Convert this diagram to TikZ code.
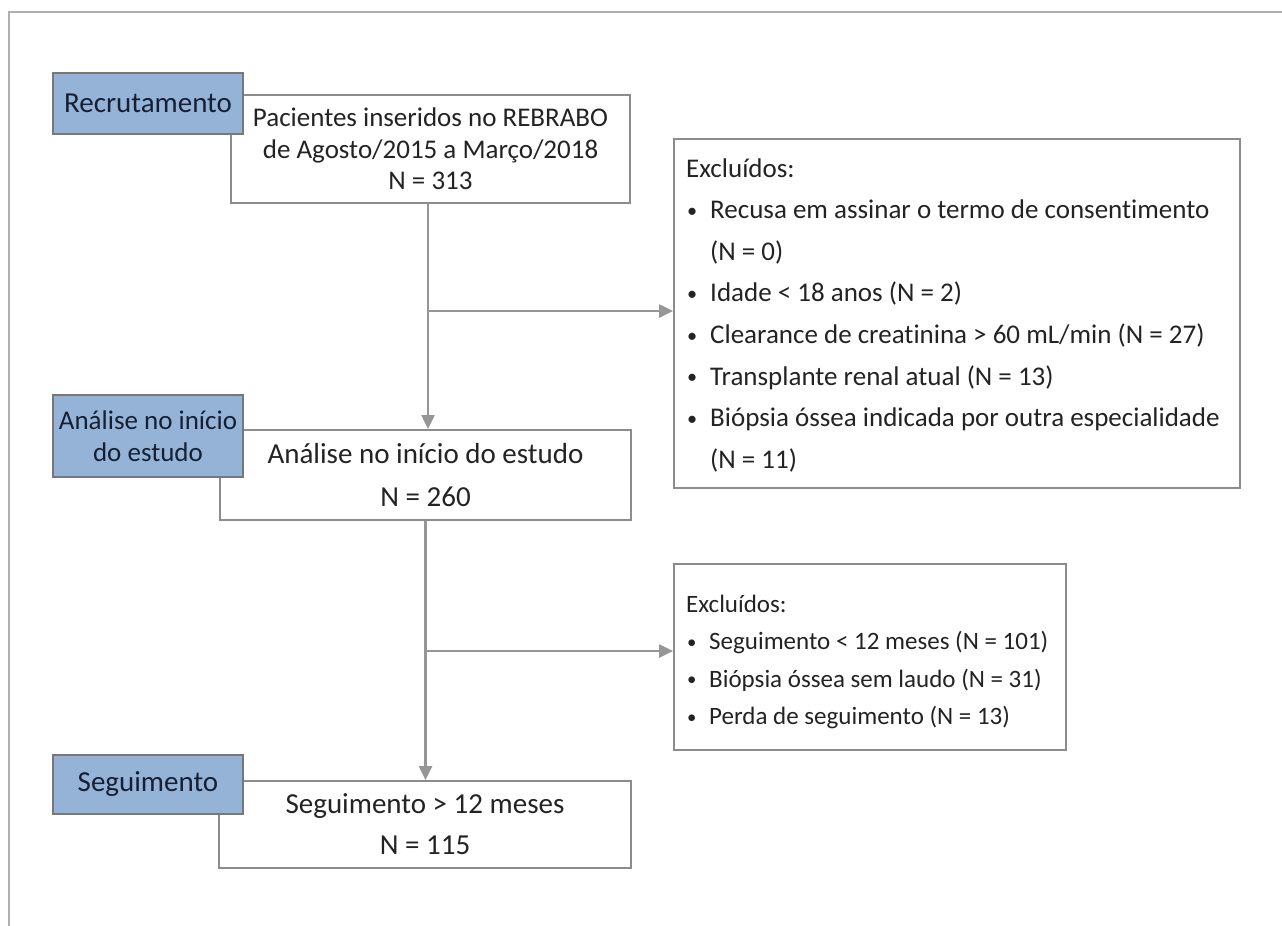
\documentclass[tikz,border=0pt]{standalone}
\usepackage{fontspec}
\setmainfont{Carlito}[Ligatures=NoCommon]
\usetikzlibrary{arrows.meta}
\definecolor{bluefill}{RGB}{149,179,215}
\definecolor{boxline}{RGB}{140,140,140}
\definecolor{blueline}{RGB}{120,120,120}
\definecolor{arrowc}{RGB}{150,150,150}
\definecolor{framec}{RGB}{175,175,175}
\definecolor{navytext}{RGB}{22,32,52}
\definecolor{bodytext}{RGB}{35,35,35}
\newcommand{\dotA}{\makebox[24pt][l]{\hspace*{1pt}\raisebox{1.5pt}{\scalebox{0.75}{\textbullet}}}}
\newcommand{\dotB}{\makebox[23pt][l]{\hspace*{1pt}\raisebox{1.4pt}{\scalebox{0.75}{\textbullet}}}}
\begin{document}
\begin{tikzpicture}[x=1pt,y=-1pt,
  whitebox/.style={draw=boxline, line width=2pt, fill=white, rectangle, inner sep=0pt,
    anchor=north west, text=bodytext, align=center},
  bluebox/.style={draw=blueline, line width=2pt, fill=bluefill, rectangle, inner sep=0pt,
    anchor=north west, text=navytext, align=center},
  lineA/.style={inner sep=0pt, anchor=base west, text=bodytext, font=\fontsize{27}{32}\selectfont},
  lineB/.style={inner sep=0pt, anchor=base west, text=bodytext, font=\fontsize{25}{30}\selectfont},
  flow/.style={draw=arrowc, line width=2.5pt, -{Triangle[length=14pt,width=13pt]}},
]
\useasboundingbox (0,0) rectangle (1282,926);
\fill[white] (0,0) rectangle (1282,926);
% outer frame (top and left sides only)
\draw[framec, line width=1.5pt] (9,926) -- (9,12) -- (1282,12);

% white flow boxes
\node[whitebox, minimum width=399pt, minimum height=108pt,
  font=\fontsize{27}{31.5}\selectfont] (b1) at (230,94)
  {Pacientes inseridos no REBRABO\\de Agosto/2015 a Março/2018\\N = 313};
\node[whitebox, minimum width=411pt, minimum height=90pt,
  font=\fontsize{29}{43}\selectfont] (b2) at (219,429)
  {Análise no início do estudo\\N = 260};
\node[whitebox, minimum width=412pt, minimum height=87pt,
  font=\fontsize{29}{41}\selectfont] (b3) at (218,780)
  {Seguimento > 12 meses\\N = 115};

% exclusion box 1
\node[whitebox, minimum width=566pt, minimum height=349pt] (e1) at (673,138) {};
\node[lineA] (e1a) at (686,177.1) {Excluídos:};
\node[lineA] (e1b) at (686,218.7) {\dotA Recusa em assinar o termo de consentimento};
\node[lineA] (e1c) at (710,260.3) {(N = 0)};
\node[lineA] (e1d) at (686,301.9) {\dotA Idade < 18 anos (N = 2)};
\node[lineA] (e1e) at (686,343.5) {\dotA Clearance de creatinina > 60 mL/min (N = 27)};
\node[lineA] (e1f) at (686,385.1) {\dotA Transplante renal atual (N = 13)};
\node[lineA] (e1g) at (686,426.7) {\dotA Biópsia óssea indicada por outra especialidade};
\node[lineA] (e1h) at (710,468.3) {(N = 11)};

% exclusion box 2
\node[whitebox, minimum width=392pt, minimum height=186pt] (e2) at (673,563) {};
\node[lineB] (e2a) at (686,612.5) {Excluídos:};
\node[lineB] (e2b) at (686,649.5) {\dotB Seguimento < 12 meses (N = 101)};
\node[lineB] (e2c) at (686,687) {\dotB Biópsia óssea sem laudo (N = 31)};
\node[lineB] (e2d) at (686,724.5) {\dotB Perda de seguimento (N = 13)};

% connectors
\coordinate (k1) at ([xshift=-2.5pt]b1.south |- 0,311);
\coordinate (k2) at (b2.south |- 0,651);
\draw[flow] ([xshift=-2.5pt]b1.south) -- ([xshift=-2.5pt]b1.south |- b2.north);
\draw[flow] (k1) -- (k1 -| e1.west);
\draw[flow] (b2.south) -- (b2.south |- b3.north);
\draw[flow] (k2) -- (k2 -| e2.west);

% stage labels (drawn over the white boxes)
\node[bluebox, minimum width=190pt, minimum height=61pt,
  font=\fontsize{29}{34}\selectfont] (s1) at (52,72) {Recrutamento};
\node[bluebox, minimum width=190pt, minimum height=82pt,
  font=\fontsize{27}{32}\selectfont] (s2) at (52,394) {Análise no início\\do estudo};
\node[bluebox, minimum width=190pt, minimum height=59pt,
  font=\fontsize{29}{34}\selectfont] (s3) at (52,754) {Seguimento};
\end{tikzpicture}
\end{document}
